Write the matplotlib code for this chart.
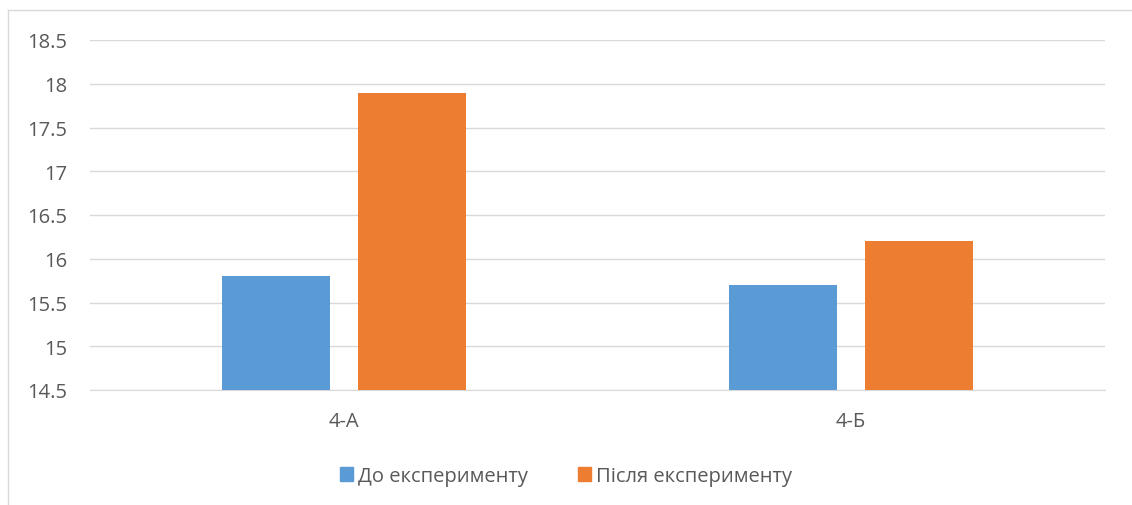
import matplotlib
matplotlib.use("Agg")
import matplotlib.pyplot as plt
from matplotlib.lines import Line2D
from matplotlib.patches import Patch
import numpy as np

categories = ["4-А", "4-Б"]
series_names = ["До експерименту", "Після експерименту"]
before = [15.8, 15.7]
after = [17.9, 16.2]
yticks = [14.5, 15, 15.5, 16, 16.5, 17, 17.5, 18, 18.5]

plt.rcParams['font.family'] = ['Open Sans', 'DejaVu Sans']
txt = '#595959'
blue = '#5B9BD5'
orange = '#ED7D31'
fs = 14.5

fig = plt.figure(figsize=(11.32, 5.06), dpi=100)
ax = fig.add_axes([90/1132, 1-391/506, (1105-90)/1132, (391-41)/506])

x = np.arange(len(categories))
w = 0.2128
off = 0.134
ax.bar(x - off, before, w, color=blue, bottom=0, zorder=3)
ax.bar(x + off, after, w, color=orange, bottom=0, zorder=3)

ax.set_xlim(-0.5, 1.5)
ax.set_ylim(14.5, 18.5)
ax.set_yticks(yticks)
ax.set_yticklabels([f"{v:g}" for v in yticks])
ax.set_xticks(x)
ax.set_xticklabels(categories)
ax.tick_params(axis='both', length=0, labelsize=fs, colors=txt)
ax.tick_params(axis='y', pad=16.5)
ax.tick_params(axis='x', pad=15)
ax.grid(axis='y', color='#D9D9D9', linewidth=1, zorder=0)
for s in ['top', 'right', 'left']:
    ax.spines[s].set_visible(False)
ax.spines['bottom'].set_color('#D9D9D9')

handles = [Patch(color=blue), Patch(color=orange)]
fig.legend(handles, series_names, loc='center', bbox_to_anchor=(0.5, 1-477/506),
           ncol=2, frameon=False, fontsize=fs, labelcolor=txt,
           handlelength=0.65, handleheight=0.65, handletextpad=0.25, columnspacing=2.5)

# chart border
fig.add_artist(Line2D([8/1132, 1.0], [1-11/506, 1-11/506], color='#D9D9D9', lw=1))
fig.add_artist(Line2D([8/1132, 8/1132], [1-11/506, 0], color='#D9D9D9', lw=1))

fig.savefig("out.png", dpi=100)
